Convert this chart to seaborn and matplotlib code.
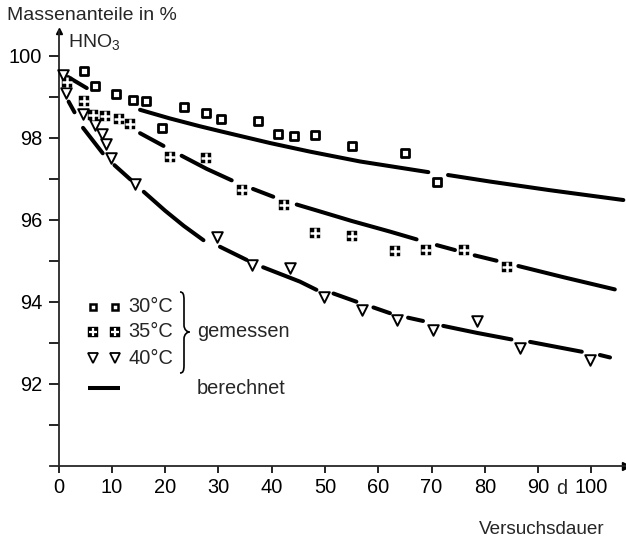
import numpy as np
import pandas as pd
import matplotlib
matplotlib.use("Agg")
import matplotlib.pyplot as plt
import seaborn as sns
from matplotlib.path import Path
from matplotlib.patches import PathPatch

nan = np.nan

# ---- measured points (Versuchsdauer in d, HNO3 in %) ----
t30 = [4.8, 6.8, 10.7, 13.9, 16.5, 19.4, 23.5, 27.6, 30.4, 37.4, 41.1, 44.2, 48.1, 55.1, 65.0, 71.1]
w30 = [99.63, 99.27, 99.07, 98.92, 98.90, 98.23, 98.74, 98.60, 98.46, 98.41, 98.08, 98.04, 98.06, 97.80, 97.62, 96.93]

t35 = [1.5, 4.7, 6.5, 8.7, 11.4, 13.4, 21.0, 27.6, 34.4, 42.4, 48.1, 55.1, 63.1, 69.0, 76.1, 84.1]
w35 = [99.36, 98.90, 98.55, 98.53, 98.45, 98.33, 97.54, 97.50, 96.72, 96.36, 95.68, 95.60, 95.24, 95.26, 95.26, 94.84]

t40 = [0.8, 1.4, 4.5, 6.8, 8.1, 9.0, 9.8, 14.4, 29.7, 36.4, 43.4, 49.9, 57.0, 63.6, 70.3, 78.5, 86.6, 99.8]
w40 = [99.52, 99.10, 98.58, 98.31, 98.09, 97.85, 97.50, 96.87, 95.59, 94.90, 94.81, 94.11, 93.80, 93.55, 93.31, 93.54, 92.86, 92.59]

# ---- calculated curves (NaN = gap in the drawn line) ----
c30_t = [1.8, 5.3, nan, 15.3, 20.9, 26.5, 30.3, 39.7, 47.2, 56.6, 69.4, nan, 73.1, 81.0, 92.2, 106.0]
c30_w = [99.48, 99.21, nan, 98.68, 98.47, 98.28, 98.16, 97.87, 97.66, 97.42, 97.16, nan, 97.09, 96.93, 96.72, 96.48]

c35_t = [15.3, 19.7, nan, 23.1, 27.8, 32.5, nan, 36.5, 40.3, nan, 44.7, 49.1, 55.0, 62.2, 67.2, nan,
         71.0, 74.4, nan, 78.1, 82.2, nan, 86.3, 95.0, 104.4]
c35_w = [98.11, 97.80, nan, 97.56, 97.24, 96.96, nan, 96.75, 96.56, nan, 96.37, 96.20, 95.97, 95.71, 95.52, nan,
         95.38, 95.26, nan, 95.13, 95.00, nan, 94.87, 94.59, 94.30]

c40_t = [1.9, 3.0, nan, 4.6, 8.3, nan, 10.5, 13.5, nan, 16.0, 20.0, 23.5, 27.2, nan, 30.3, 35.3, nan,
         38.4, 45.3, 48.4, nan, 51.6, 55.9, nan, 59.1, 62.2, nan, 65.6, 68.4, nan, 72.2, 78.5, 85.0, nan,
         88.5, 98.2, nan, 101.6, 103.5]
c40_w = [98.88, 98.62, nan, 98.24, 97.62, nan, 97.33, 96.98, nan, 96.68, 96.22, 95.85, 95.50, nan, 95.34, 95.02, nan,
         94.84, 94.49, 94.29, nan, 94.20, 94.00, nan, 93.86, 93.72, nan, 93.61, 93.53, nan, 93.41, 93.24, 93.08, nan,
         93.02, 92.78, nan, 92.70, 92.64]

x_ticks = [0, 10, 20, 30, 40, 50, 60, 70, 80, 90, 100]
x_labels = ["0", "10", "20", "30", "40", "50", "60", "70", "80", "90", "100"]
y_major = [92, 94, 96, 98, 100]
y_minor = [91, 93, 95, 97, 99]
y_labels = ["92", "94", "96", "98", "100"]

legend_labels = ["30°C", "35°C", "40°C"]

# ---- style ----
sns.set_style("ticks")
plt.rcParams["font.family"] = ["Liberation Sans", "DejaVu Sans"]
plt.rcParams["mathtext.default"] = "regular"

W, H = 626, 544
fig = plt.figure(figsize=(W / 100, H / 100), dpi=100)

XMIN, XMAX = -1.6, 106.5
YMIN, YMAX = 90.0, 100.6
ax_left_px, ax_right_px = 50.0, 626.0
ax_bottom_px, ax_top_px = 465.7, 31.1
ax = fig.add_axes([ax_left_px / W, 1 - ax_bottom_px / H,
                   (ax_right_px - ax_left_px) / W, (ax_bottom_px - ax_top_px) / H])
ax.set_xlim(XMIN, XMAX)
ax.set_ylim(YMIN, YMAX)


def fp(x, y):
    """figure pixel -> figure fraction"""
    return x / W, 1 - y / H


def segments(t, w):
    df = pd.DataFrame({"t": t, "w": w})
    df["seg"] = df["w"].isna().cumsum()
    return df.dropna()


LW = 2.9
for ct, cw in [(c30_t, c30_w), (c35_t, c35_w), (c40_t, c40_w)]:
    sns.lineplot(data=segments(ct, cw), x="t", y="w", units="seg", estimator=None, sort=False,
                 color="black", linewidth=LW, ax=ax, legend=False)

# markers
sns.scatterplot(x=t30, y=w30, marker="s", s=34, facecolor="white", edgecolor="black",
                linewidth=2.0, ax=ax, zorder=4, legend=False)
sns.scatterplot(x=t35, y=w35, marker="s", s=52, color="black", edgecolor="black",
                linewidth=0.3, ax=ax, zorder=4, legend=False)
sns.scatterplot(x=t35, y=w35, marker="+", s=46, color="white", linewidth=1.8,
                ax=ax, zorder=5, legend=False)
sns.scatterplot(x=t40, y=w40, marker="v", s=58, facecolor="white", edgecolor="black",
                linewidth=1.4, ax=ax, zorder=4, legend=False)

# ---- axes ----
for s in ["top", "right"]:
    ax.spines[s].set_visible(False)
ax.spines["left"].set_position(("data", 0))
ax.spines["left"].set_linewidth(1.3)
ax.spines["bottom"].set_linewidth(1.3)

ax.set_xticks(x_ticks)
ax.set_xticklabels(x_labels)
ax.set_yticks(y_major)
ax.set_yticklabels(y_labels)
ax.set_yticks(y_minor, minor=True)
ax.tick_params(axis="x", direction="out", length=5, width=1.2, pad=4, labelsize=14.4, colors="black")
ax.tick_params(axis="y", which="both", direction="out", length=7.2, width=1.2, pad=4.5,
               labelsize=14.4, colors="black")
ax.set_xlabel("")
ax.set_ylabel("")

# arrows at axis ends
ax.plot(1, YMIN, ">", color="black", markersize=6, transform=ax.get_yaxis_transform(), clip_on=False)
ax.plot(0, 1, "^", color="black", markersize=4.5, transform=ax.get_xaxis_transform(), clip_on=False)

# ---- texts ----
fig.text(*fp(7, 15), "Massenanteile in %", ha="left", va="center", fontsize=14.0)
fig.text(*fp(68, 42), r"HNO$_3$", ha="left", va="center", fontsize=14)
fig.text(*fp(541.5, 530), "Versuchsdauer", ha="center", va="center", fontsize=13.6)
fig.text(*fp(562, 488), "d", ha="center", va="center", fontsize=14.4)

# ---- legend (drawn manually) ----
rows_y = [306.7, 331.7, 358.3]
mk_x = [92.5, 115.0]
for i, (lab, y) in enumerate(zip(legend_labels, rows_y)):
    for x in mk_x:
        fx, fy = fp(x, y)
        if i == 0:
            ax.plot(fx, fy, "s", ms=5.0, mfc="white", mec="black", mew=1.8,
                    transform=fig.transFigure, clip_on=False)
        elif i == 1:
            ax.plot(fx, fy, "s", ms=6.6, mfc="black", mec="black", mew=0.3,
                    transform=fig.transFigure, clip_on=False)
            ax.plot(fx, fy, "+", ms=6.2, mec="white", mew=1.6,
                    transform=fig.transFigure, clip_on=False)
        else:
            ax.plot(fx, fy, "v", ms=7, mfc="white", mec="black", mew=1.3,
                    transform=fig.transFigure, clip_on=False)
    fig.text(*fp(128.3, y), lab, ha="left", va="center", fontsize=14.4)

# brace
bx, btop, bbot, bmid, btip = 184.0, 292.0, 373.0, 332.0, 189.5
verts_px = [
    (bx - 4, btop), (bx - 1, btop), (bx, btop + 2), (bx, btop + 8),
    (bx, bmid - 7),
    (bx, bmid - 2), (btip - 2, bmid), (btip, bmid),
    (btip - 2, bmid), (bx, bmid + 2), (bx, bmid + 7),
    (bx, bbot - 8),
    (bx, bbot - 2), (bx - 1, bbot), (bx - 4, bbot),
]
codes = [Path.MOVETO, Path.CURVE4, Path.CURVE4, Path.CURVE4,
         Path.LINETO,
         Path.CURVE4, Path.CURVE4, Path.CURVE4,
         Path.CURVE4, Path.CURVE4, Path.CURVE4,
         Path.LINETO,
         Path.CURVE4, Path.CURVE4, Path.CURVE4]
verts = [fp(x, y) for x, y in verts_px]
fig.add_artist(PathPatch(Path(verts, codes), transform=fig.transFigure, fill=False,
                         edgecolor="black", linewidth=1.2))
fig.text(*fp(196.7, 331.7), "gemessen", ha="left", va="center", fontsize=14.4)

# calculated line legend
(x1, y1), (x2, _) = fp(88.3, 388.3), fp(120.0, 388.3)
ax.plot([x1, x2], [y1, y1], color="black", linewidth=LW, solid_capstyle="butt",
        transform=fig.transFigure, clip_on=False)
fig.text(*fp(196.7, 388.3), "berechnet", ha="left", va="center", fontsize=14.4)

fig.savefig("out.png", dpi=100)
